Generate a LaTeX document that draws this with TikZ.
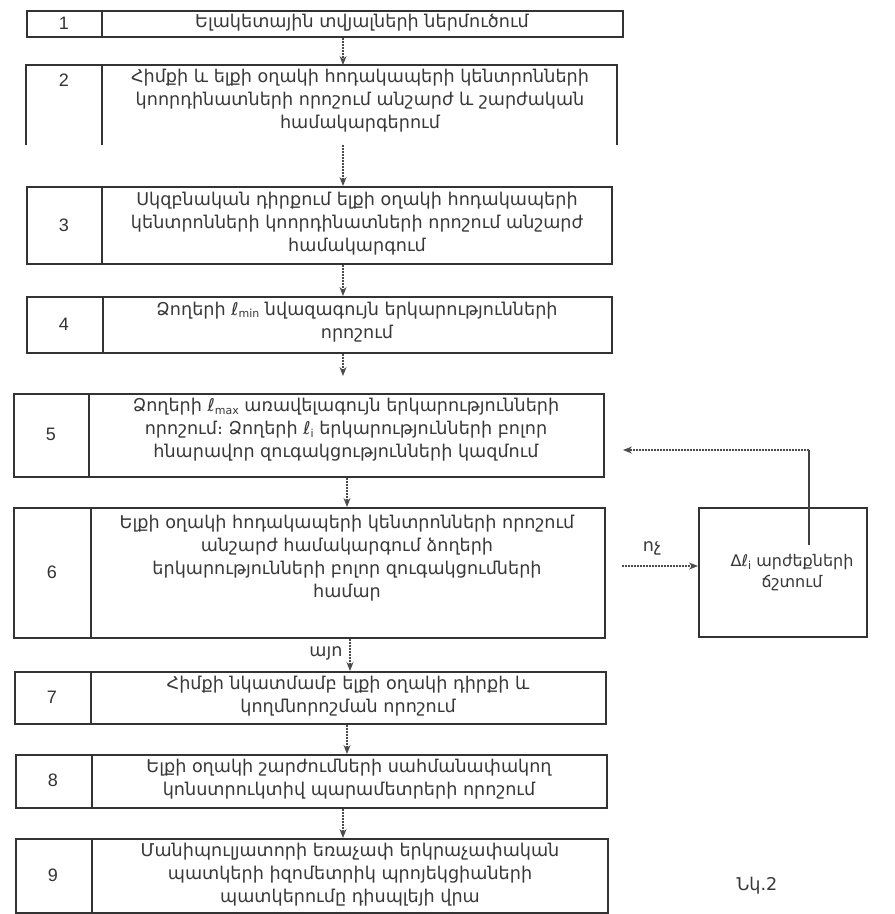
\documentclass[tikz,border=0pt]{standalone}
\usepackage{fontspec}
\setmainfont{Liberation Sans}
\newfontfamily\armfont{DejaVu Sans}
\usetikzlibrary{arrows.meta,calc}
\newcommand{\lsub}[1]{ℓ\raisebox{-2.5pt}{\fontsize{11}{11}\selectfont #1}}
\begin{document}
\begin{tikzpicture}[x=1pt,y=-1pt,
  frame/.style={draw=black!80, line width=2pt, inner sep=0pt, anchor=north west},
  openframe/.style={inner sep=0pt, anchor=north west},
  divline/.style={draw=black!80, line width=2pt},
  num/.style={font=\fontsize{18}{18}\selectfont, text=black!80},
  txt/.style={font=\armfont\fontsize{17.6}{23}\selectfont, text=black!78, align=center, inner sep=0pt},
  smalltxt/.style={txt, font=\armfont\fontsize{16}{21}\selectfont},
  arr/.style={draw=black!70, line width=1.1pt, dash pattern=on 1.6pt off 1.4pt, -{Stealth[length=9pt,width=7pt]}},
  solidl/.style={draw=black!75, line width=1.3pt},
]
\useasboundingbox (0,0) rectangle (895,914);
\fill[white] (0,0) rectangle (895,914);

% Box 1
\node[frame, minimum width=596pt, minimum height=26pt] (b1) at (26,10) {};
\draw[divline] (102,10) -- (102,36);
\node[num] (n1) at (64,23) {1};
\node[txt] (t1) at (362,23) {Ելակետային տվյալների ներմուծում};

% Box 2 (open bottom)
\node[openframe, minimum width=591pt, minimum height=80pt] (b2) at (26,65) {};
\draw[divline] (b2.south west) -- (b2.north west) -- (b2.north east) -- (b2.south east);
\draw[divline] (102,65) -- (102,145);
\node[num] (n2) at (64,80) {2};
\node[txt] (t2) at (360,101) {Հիմքի և ելքի օղակի հոդակապերի կենտրոնների\\կոորդինատների որոշում անշարժ և շարժական\\համակարգերում};

% Box 3
\node[frame, minimum width=585pt, minimum height=77pt] (b3) at (26,186) {};
\draw[divline] (102,186) -- (102,263);
\node[num] (n3) at (64,225) {3};
\node[txt] (t3) at (357,224) {Սկզբնական դիրքում ելքի օղակի հոդակապերի\\կենտրոնների կոորդինատների որոշում անշարժ\\համակարգում};

% Box 4
\node[frame, minimum width=585pt, minimum height=56pt] (b4) at (26,296) {};
\draw[divline] (103,296) -- (103,352);
\node[num] (n4) at (64,324) {4};
\node[txt] (t4) at (357,322) {Ձողերի \lsub{min} նվազագույն երկարությունների\\որոշում};

% Box 5
\node[frame, minimum width=590pt, minimum height=83pt] (b5) at (13,393) {};
\draw[divline] (89,393) -- (89,476);
\node[num] (n5) at (51,434) {5};
\node[txt] (t5) at (346,430) {Ձողերի \lsub{max} առավելագույն երկարությունների\\որոշում։ Ձողերի \lsub{i} երկարությունների բոլոր\\հնարավոր զուգակցությունների կազմում};

% Box 6
\node[frame, minimum width=591pt, minimum height=130pt] (b6) at (13,507) {};
\draw[divline] (91,507) -- (91,637);
\node[num] (n6) at (52,572) {6};
\node[txt] (t6) at (347,558) {Ելքի օղակի հոդակապերի կենտրոնների որոշում\\անշարժ համակարգում ձողերի\\երկարությունների բոլոր զուգակցումների\\համար};

% Box 7
\node[frame, minimum width=591pt, minimum height=52pt] (b7) at (14,671) {};
\draw[divline] (91,671) -- (91,723);
\node[num] (n7) at (52,697) {7};
\node[txt] (t7) at (348,696) {Հիմքի նկատմամբ ելքի օղակի դիրքի և\\կողմնորոշման որոշում};

% Box 8
\node[frame, minimum width=591pt, minimum height=53pt] (b8) at (15,754) {};
\draw[divline] (92,754) -- (92,807);
\node[num] (n8) at (53,780) {8};
\node[txt] (t8) at (349,779) {Ելքի օղակի շարժումների սահմանափակող\\կոնստրուկտիվ պարամետրերի որոշում};

% Box 9
\node[frame, minimum width=592pt, minimum height=74pt] (b9) at (15,838) {};
\draw[divline] (92,838) -- (92,912);
\node[num] (n9) at (53,875) {9};
\node[txt] (t9) at (350,875) {Մանիպուլյատորի եռաչափ երկրաչափական\\պատկերի իզոմետրիկ պրոյեկցիաների\\պատկերումը դիսպլեյի վրա};

% Side box
\node[frame, minimum width=168pt, minimum height=129pt] (s) at (698,507) {};
\node[smalltxt] (ts) at (792,573) {Δ\lsub{i} արժեքների\\ճշտում};

% Vertical connectors
\coordinate (ax) at (343,0);
\coordinate (bx) at (347,0);
\coordinate (cx) at (350,0);
\draw[arr] (ax |- b1.south) -- (ax |- b2.north);
\draw[arr] (ax |- b2.south) -- (ax |- b3.north);
\draw[arr] (ax |- b3.south) -- (ax |- b4.north);
\draw[arr] (ax |- b4.south) -- ($(ax |- b4.south)+(0,22)$);
\draw[arr] (bx |- b5.south) -- (bx |- b6.north);
\draw[arr] (cx |- b6.south) -- (cx |- b7.north);
\draw[arr] (bx |- b7.south) -- (bx |- b8.north);
\draw[arr] (ax |- b8.south) -- (ax |- b9.north);

% no branch
\coordinate (noS) at (622,566);
\draw[arr] (noS) -- (noS -| s.west);
\node[txt] (lno) at (652,548) {ոչ};

% feedback
\coordinate (fbS) at (809,545);
\coordinate (fbE) at (623,450);
\draw[solidl] (fbS) -- (fbS |- fbE);
\draw[arr] (fbS |- fbE) -- (fbE);

% yes label
\node[txt] (lyes) at (326,653) {այո};

% caption
\node[txt] (cap) at (757,886) {Նկ.2};
\end{tikzpicture}
\end{document}
